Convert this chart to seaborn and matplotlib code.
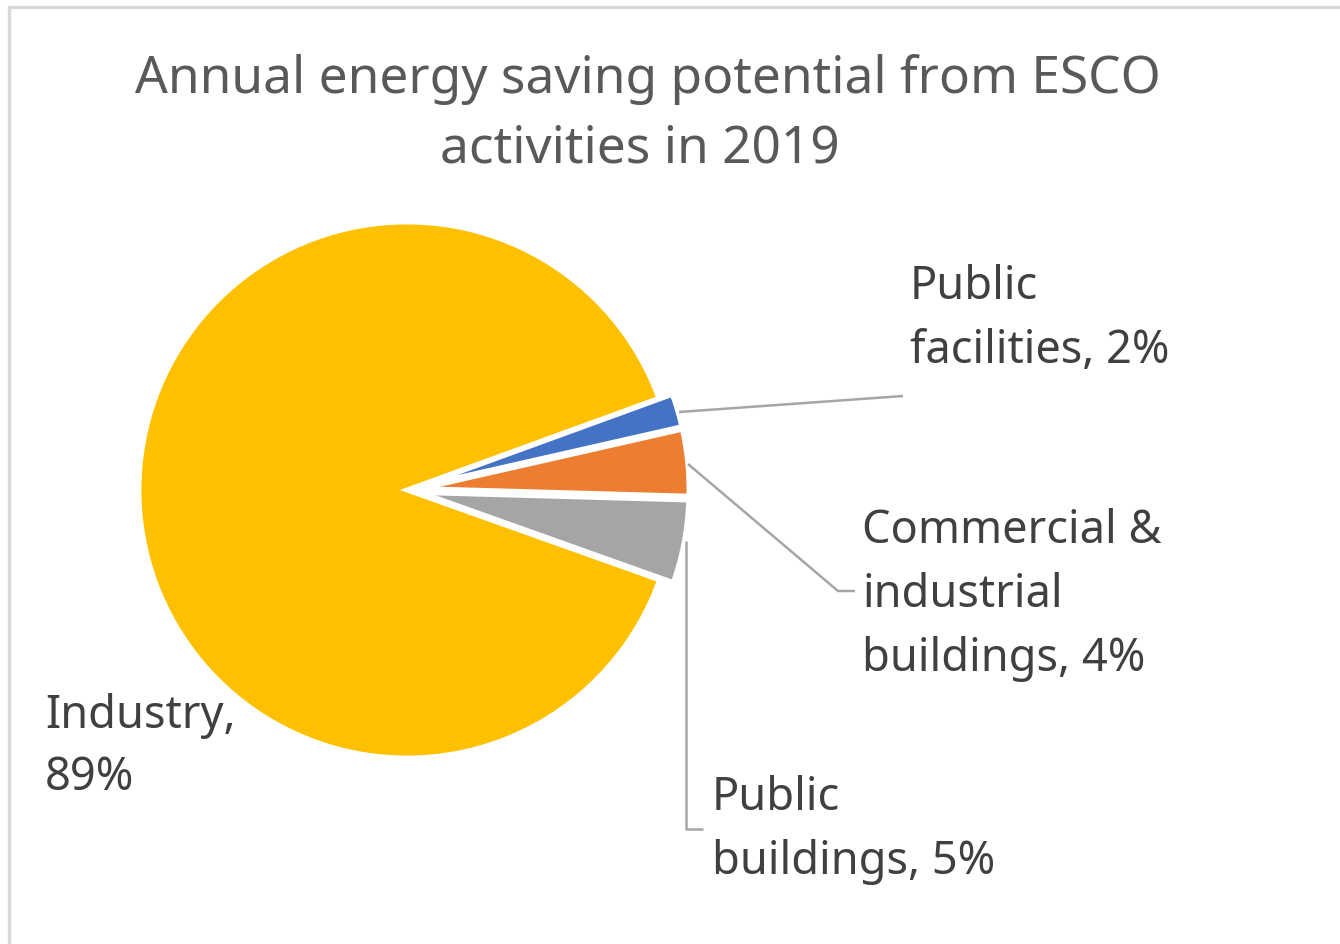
import textwrap

import matplotlib
matplotlib.use("Agg")
import matplotlib.pyplot as plt
import seaborn as sns

# Energy saving potential by sector (%)
categories = ["Industry", "Public facilities",
              "Commercial & industrial buildings", "Public buildings"]
shares = [89, 2, 4, 5]
slice_colors = ["#FFC000", "#4472C4", "#ED7D31", "#A5A5A5"]
title_lines = ["Annual energy saving potential from ESCO", "activities in 2019"]

sns.set_theme(style="white")
plt.rcParams["font.family"] = ["Noto Sans", "DejaVu Sans"]

W, H = 1340, 945
fig = plt.figure(figsize=(W / 100, H / 100), dpi=100)
ax = fig.add_axes([0, 0, 1, 1])


def Y(y):
    """Convert a top-down pixel row into the axes' bottom-up units."""
    return H - y


palette = sns.color_palette(slice_colors)
ax.pie(shares, colors=palette, startangle=-19.6, counterclock=False,
       explode=[0, 14, 14, 14], radius=268, center=(407, Y(491)),
       wedgeprops=dict(edgecolor="white", linewidth=3.5))
ax.set_xlim(0, W)
ax.set_ylim(0, H)
ax.set_aspect("auto")
ax.axis("off")

# Title (two centred lines)
title_color = "#595959"
title_pos = [(648, 93), (640, 163)]
for (tx, ty), line in zip(title_pos, title_lines):
    ax.text(tx, Y(ty), line, ha="center", va="baseline",
            fontsize=37, color=title_color)

# Data labels: x, first baseline, line step, wrap width
label_layout = {
    "Industry": (45, 728, 62, 10),
    "Public facilities": (910, 299, 64, 14),
    "Commercial & industrial buildings": (862, 543, 64, 13),
    "Public buildings": (712, 810, 64, 13),
}
label_color = "#404040"
for cat, val in zip(categories, shares):
    x0, y0, step, width = label_layout[cat]
    for i, line in enumerate(textwrap.wrap(f"{cat}, {val}%", width)):
        ax.text(x0, Y(y0 + step * i), line, ha="left", va="baseline",
                fontsize=32.5, color=label_color)

# Leader lines
leader_color = "#A6A6A6"
leaders = [
    [(679, 413), (903, 397)],
    [(688, 465), (838, 592), (855, 592)],
    [(686, 542), (686, 830), (703, 830)],
]
for pts in leaders:
    xs = [p[0] for p in pts]
    ys = [Y(p[1]) for p in pts]
    ax.plot(xs, ys, color=leader_color, lw=1.8, solid_capstyle="butt")

# Chart area border (top and left edges fall inside the canvas)
ax.plot([9, 9, W], [Y(H), Y(8), Y(8)], color="#D9D9D9", lw=2.4,
        solid_joinstyle="miter")

fig.savefig("out.png", dpi=100, facecolor="white")
